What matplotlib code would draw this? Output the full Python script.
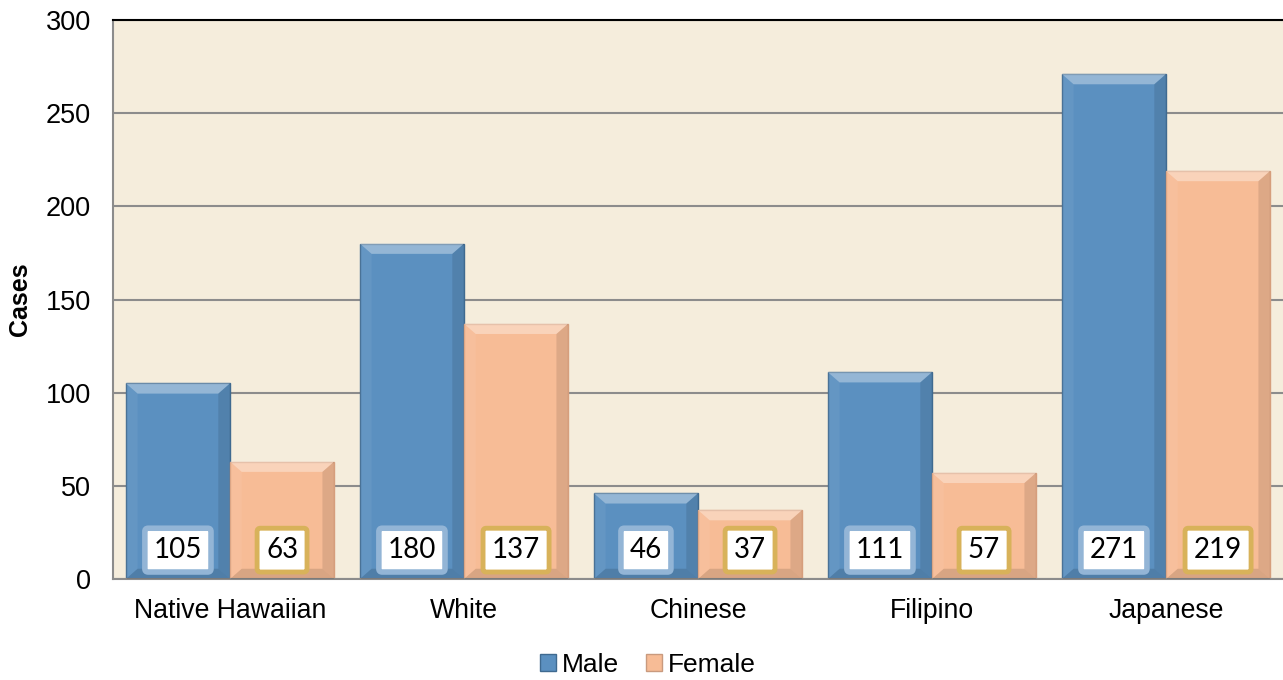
import matplotlib.pyplot as plt
from matplotlib.patches import Polygon, Patch
import numpy as np

# data
groups = ['Native Hawaiian', 'White', 'Chinese', 'Filipino', 'Japanese']
male = [105, 180, 46, 111, 271]
female = [63, 137, 37, 57, 219]
yticks = [0, 50, 100, 150, 200, 250, 300]

male_col = '#5B90C0'
female_col = '#F7BC96'
bg = '#F5EDDC'

plt.rcParams['font.family'] = ['Liberation Sans', 'DejaVu Sans']

fig = plt.figure(figsize=(12.83, 6.8), dpi=100)
ax = fig.add_axes([113/1283, 101/680, 1 - 113/1283, 559/680])
ax.set_facecolor(bg)

x = np.arange(len(groups))
w = 0.445


def bevel_bar(x0, h, col):
    x1 = x0 + w
    bx = 0.05
    by = 5.5
    ax.bar(x0, h, w, align='edge', color=col, edgecolor='#3F6A90' if col == male_col else '#D9A07E',
           linewidth=1.0, zorder=2)
    top = Polygon([[x0, h], [x1, h], [x1 - bx, h - by], [x0 + bx, h - by]],
                  closed=True, color='white', alpha=0.35, lw=0, zorder=3)
    left = Polygon([[x0, h], [x0 + bx, h - by], [x0 + bx, by], [x0, 0]],
                   closed=True, color='white', alpha=0.06, lw=0, zorder=3)
    right = Polygon([[x1, h], [x1 - bx, h - by], [x1 - bx, by], [x1, 0]],
                    closed=True, color='black', alpha=0.10, lw=0, zorder=3)
    bottom = Polygon([[x0, 0], [x1, 0], [x1 - bx, by], [x0 + bx, by]],
                     closed=True, color='black', alpha=0.12, lw=0, zorder=3)
    for p in (top, left, right, bottom):
        ax.add_patch(p)


for i in range(len(groups)):
    bevel_bar(x[i] - w, male[i], male_col)
    bevel_bar(x[i], female[i], female_col)
    ax.text(x[i] - w / 2, 15.5, str(male[i]), ha='center', va='center', fontsize=20,
            family=['Lato', 'DejaVu Sans'], zorder=5,
            bbox=dict(boxstyle='round,pad=0.32,rounding_size=0.12', fc='white', ec='#93B5D6', lw=4))
    ax.text(x[i] + w / 2, 15.5, str(female[i]), ha='center', va='center', fontsize=20,
            family=['Lato', 'DejaVu Sans'], zorder=5,
            bbox=dict(boxstyle='round,pad=0.32,rounding_size=0.12', fc='white', ec='#D8B25A', lw=3.5))

ax.set_xlim(-0.5, len(groups) - 0.5)
ax.set_ylim(0, 300)
ax.set_yticks(yticks)
ax.set_xticks(x)
ax.set_xticklabels(groups)
ax.tick_params(axis='y', length=0, pad=16, labelsize=19.5)
ax.tick_params(axis='x', length=0, pad=14, labelsize=19.2)
ax.yaxis.grid(True, color='#8C8C8C', lw=1.5, zorder=1)
ax.set_axisbelow(True)
ax.set_ylabel('Cases', fontsize=18, fontweight='bold', labelpad=10)

ax.spines['right'].set_visible(False)
ax.spines['top'].set_color('black')
ax.spines['top'].set_linewidth(1.5)
ax.spines['left'].set_color('#8C8C8C')
ax.spines['left'].set_linewidth(1.5)
ax.spines['bottom'].set_color('#8C8C8C')
ax.spines['bottom'].set_linewidth(1.5)

handles = [Patch(facecolor=male_col, edgecolor='#3F6A90', label='Male'),
           Patch(facecolor=female_col, edgecolor='#C99A7E', label='Female')]
fig.legend(handles=handles, loc='center', bbox_to_anchor=(648/1283, 1 - 665/680), ncol=2,
           frameon=False, fontsize=19, handlelength=0.6, handleheight=0.6,
           handletextpad=0.25, columnspacing=1.0)

fig.savefig('out.png', dpi=100)
